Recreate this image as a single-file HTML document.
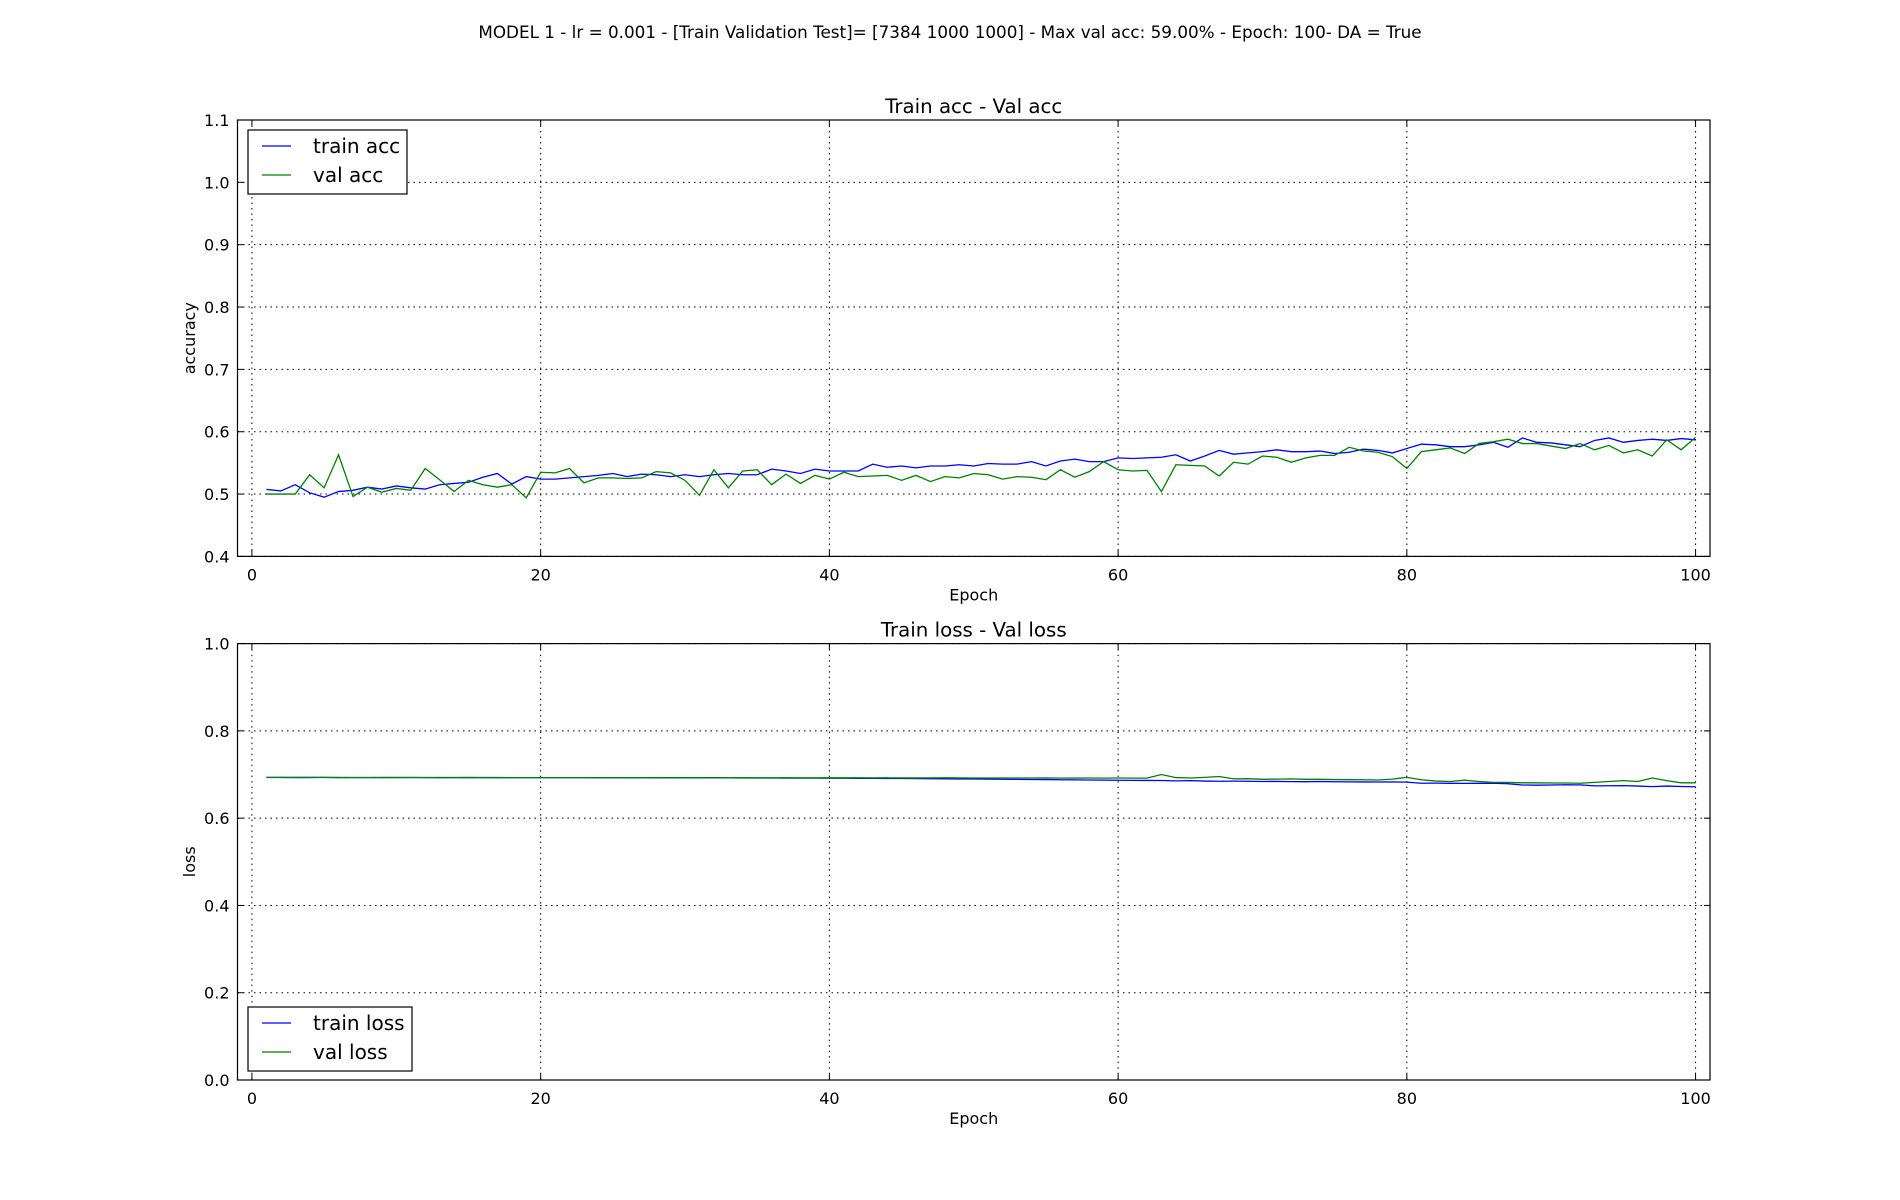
<!DOCTYPE html>
<html><head><meta charset="utf-8"><style>
html,body{margin:0;padding:0;background:#fff}
svg{display:block;font-family:"DejaVu Sans","Liberation Sans",sans-serif}
</style></head><body>
<svg id="fig" width="1900" height="1200" xmlns="http://www.w3.org/2000/svg">
<text x="950" y="38" text-anchor="middle" font-size="16.8">MODEL 1 - lr = 0.001 - [Train Validation Test]= [7384 1000 1000] - Max val acc: 59.00% -  Epoch: 100- DA = True</text>
</svg>
<script>
const epochs = Array.from({length:100},(_,i)=>i+1);
const trainAcc = [0.5075,0.505,0.515,0.502,0.495,0.504,0.506,0.511,0.508,0.513,0.510,0.508,0.515,0.517,0.519,0.527,0.533,0.516,0.528,0.524,0.524,0.526,0.528,0.530,0.533,0.528,0.532,0.531,0.528,0.531,0.528,0.531,0.533,0.531,0.531,0.540,0.537,0.533,0.540,0.537,0.537,0.537,0.548,0.543,0.545,0.542,0.545,0.545,0.547,0.545,0.549,0.548,0.548,0.552,0.545,0.553,0.556,0.552,0.552,0.558,0.557,0.558,0.559,0.563,0.553,0.561,0.570,0.564,0.566,0.568,0.571,0.568,0.568,0.569,0.565,0.567,0.572,0.570,0.566,0.573,0.580,0.579,0.576,0.576,0.579,0.583,0.575,0.590,0.583,0.582,0.579,0.576,0.586,0.590,0.583,0.586,0.588,0.586,0.589,0.587];
const valAcc = [0.500,0.500,0.500,0.531,0.510,0.563,0.496,0.511,0.503,0.509,0.506,0.541,0.523,0.504,0.522,0.515,0.511,0.515,0.494,0.535,0.534,0.541,0.518,0.526,0.526,0.525,0.526,0.536,0.534,0.522,0.498,0.539,0.510,0.537,0.539,0.515,0.532,0.517,0.530,0.524,0.535,0.528,0.529,0.530,0.522,0.530,0.520,0.528,0.526,0.533,0.531,0.524,0.528,0.527,0.523,0.539,0.527,0.536,0.552,0.539,0.537,0.538,0.504,0.547,0.546,0.545,0.529,0.551,0.548,0.561,0.559,0.551,0.558,0.562,0.562,0.575,0.569,0.567,0.560,0.541,0.568,0.571,0.574,0.565,0.581,0.584,0.588,0.581,0.581,0.577,0.573,0.581,0.571,0.578,0.566,0.571,0.561,0.587,0.571,0.591];
const trainLoss = [0.6935,0.6934,0.6933,0.6933,0.6934,0.6932,0.6932,0.6931,0.6931,0.6931,0.6931,0.6931,0.6930,0.6930,0.6930,0.6930,0.6930,0.6929,0.6929,0.6929,0.6928,0.6928,0.6928,0.6927,0.6927,0.6927,0.6926,0.6925,0.6925,0.6924,0.6924,0.6923,0.6923,0.6922,0.6921,0.6920,0.6919,0.6918,0.6917,0.6916,0.6914,0.6913,0.6911,0.6910,0.6908,0.6906,0.6904,0.6902,0.6899,0.6897,0.6894,0.6891,0.6889,0.6886,0.6884,0.6881,0.6878,0.6875,0.6872,0.6869,0.6866,0.6864,0.6863,0.6855,0.6860,0.6850,0.6845,0.6848,0.6845,0.6840,0.6842,0.6838,0.6836,0.6840,0.6835,0.6832,0.6830,0.6828,0.6830,0.6826,0.6800,0.6802,0.6798,0.6797,0.6799,0.6800,0.6790,0.6760,0.6755,0.6760,0.6765,0.6762,0.6740,0.6742,0.6745,0.6735,0.6722,0.6735,0.6725,0.6720];
const valLoss = [0.6932,0.6931,0.6930,0.6931,0.6932,0.6930,0.6929,0.6929,0.6930,0.6930,0.6931,0.6929,0.6929,0.6928,0.6930,0.6928,0.6927,0.6929,0.6928,0.6929,0.6929,0.6928,0.6929,0.6928,0.6928,0.6927,0.6928,0.6927,0.6929,0.6926,0.6927,0.6928,0.6926,0.6925,0.6926,0.6925,0.6925,0.6924,0.6924,0.6924,0.6925,0.6924,0.6923,0.6924,0.6922,0.6922,0.6923,0.6924,0.6922,0.6921,0.6921,0.6920,0.6920,0.6921,0.6922,0.6918,0.6919,0.6920,0.6918,0.6920,0.6918,0.6917,0.7000,0.6930,0.6920,0.6935,0.6955,0.6900,0.6905,0.6890,0.6895,0.6900,0.6890,0.6890,0.6885,0.6882,0.6880,0.6875,0.6895,0.6935,0.6880,0.6850,0.6840,0.6870,0.6840,0.6820,0.6820,0.6810,0.6810,0.6805,0.6805,0.6800,0.6820,0.6840,0.6860,0.6840,0.6920,0.6860,0.6810,0.6810];
const accTicks = [0.4,0.5,0.6,0.7,0.8,0.9,1.0,1.1];
const lossTicks = [0.0,0.2,0.4,0.6,0.8,1.0];
const xTicks = [0,20,40,60,80,100];

const NS='http://www.w3.org/2000/svg';
const fig=document.getElementById('fig');
function mk(tag,attrs,parent){const e=document.createElementNS(NS,tag);for(const k in attrs)e.setAttribute(k,attrs[k]);(parent||fig).appendChild(e);return e;}
const L=237.5,R=1710;
const xs=v=>L+(v+1)/102*(R-L);

function panel(top,bot,ymin,ymax,yTicks,yFmt,s1,s2,n1,n2,title,ylab,legendTop,key){
  const ys=v=>bot-(v-ymin)/(ymax-ymin)*(bot-top);
  const g=mk('g',{});
  
  
  xTicks.forEach(t=>{
    const ln=mk('line',{x1:xs(t),x2:xs(t),y1:top,y2:bot,stroke:'#000','stroke-width':1,'stroke-dasharray':'1.5,4'},g);
    
    
    mk('line',{x1:xs(t),x2:xs(t),y1:bot,y2:bot-6,stroke:'#000'},g);
    mk('line',{x1:xs(t),x2:xs(t),y1:top,y2:top+6,stroke:'#000'},g);
    const tx=mk('text',{x:xs(t),y:bot+24,'text-anchor':'middle','font-size':16},g);
    tx.textContent=t;
    
    
  });
  yTicks.forEach(t=>{
    const ln=mk('line',{x1:L,x2:R,y1:ys(t),y2:ys(t),stroke:'#000','stroke-width':1,'stroke-dasharray':'1.5,4'},g);
    
    
    mk('line',{x1:L,x2:L+6,y1:ys(t),y2:ys(t),stroke:'#000'},g);
    mk('line',{x1:R,x2:R-6,y1:ys(t),y2:ys(t),stroke:'#000'},g);
    const tx=mk('text',{x:L-8,y:ys(t)+6,'text-anchor':'end','font-size':16},g);
    tx.textContent=yFmt(t);
    
    
  });
  const mkLine=(arr,col,nm)=>{
    const p=mk('polyline',{points:arr.map((v,i)=>xs(epochs[i])+','+ys(v)).join(' '),fill:'none',stroke:col,'stroke-width':1.3},g);
    
    
  };
  mkLine(s1,'#0000ff',n1.replace(' ','-')+'-line');
  mkLine(s2,'#008000',n2.replace(' ','-')+'-line');
  const fr=mk('rect',{x:L,y:top,width:R-L,height:bot-top,fill:'none',stroke:'#000','stroke-width':1.2},g);
  
  
  const tt=mk('text',{x:(L+R)/2,y:top-7,'text-anchor':'middle','font-size':19.8},g);
  tt.textContent=title;
  
  
  const xl=mk('text',{x:(L+R)/2,y:bot+44,'text-anchor':'middle','font-size':16},g);
  xl.textContent='Epoch';
  
  
  const yc=(top+bot)/2;
  const yl=mk('text',{x:195,y:yc,'text-anchor':'middle','font-size':16,transform:'rotate(-90 195 '+yc+')'},g);
  yl.textContent=ylab;
  
  
  const lg=mk('g',{},g);
  
  
  const w=(key==='loss')?164:159;
  mk('rect',{x:248,y:legendTop,width:w,height:64,fill:'#fff',stroke:'#000','stroke-width':1.2},lg);
  [[n1,'#0000ff'],[n2,'#008000']].forEach((e,i)=>{
    const yy=legendTop+16+i*29;
    const en=mk('g',{},lg);
    
    
    mk('line',{x1:262,x2:291,y1:yy,y2:yy,stroke:e[1],'stroke-width':1.3},en);
    const t=mk('text',{x:313,y:yy+7,'font-size':20},en);
    t.textContent=e[0];
  });
}
panel(120,556.4,0.4,1.1,accTicks,v=>v.toFixed(1),trainAcc,valAcc,'train acc','val acc','Train acc - Val acc','accuracy',130,'acc');
panel(643.6,1080,0,1,lossTicks,v=>v.toFixed(1),trainLoss,valLoss,'train loss','val loss','Train loss - Val loss','loss',1007,'loss');
</script>
</body></html>
